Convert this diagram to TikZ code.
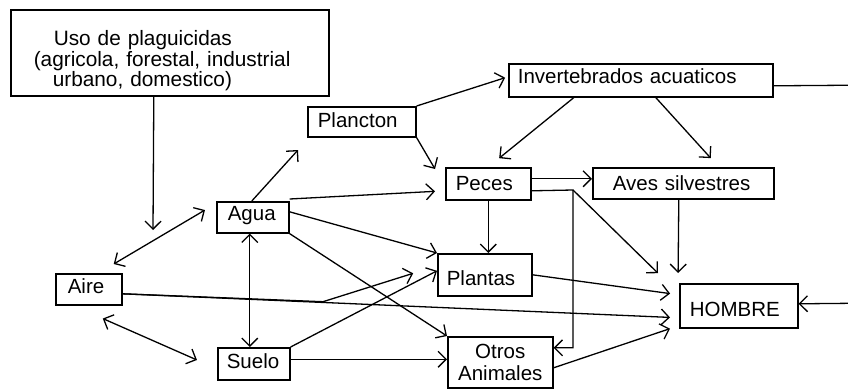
\documentclass[tikz,border=0pt]{standalone}
\usepackage{fontspec}
\setmainfont{Liberation Sans}
\usetikzlibrary{arrows.meta,calc}

\tikzset{
  >={Straight Barb[length=8pt,width=16pt]},
  box/.style={draw, line width=1.6pt, anchor=north west, inner ysep=0pt,
    align=left, font=\fontsize{20.5}{22}\selectfont},
  link/.style={line width=1.3pt, ->},
  link2/.style={line width=1.3pt, <->},
}

\begin{document}
\begin{tikzpicture}[x=1pt,y=-1pt]
\clip (0,0) rectangle (848,389);
\fill[white] (0,0) rectangle (848,389);

% boxes
\node[box, font=\fontsize{20.8}{20.5}\selectfont, inner xsep=23pt, text width=272pt, text height=36pt, text depth=50pt] (uso) at (10,9)
  {\hspace*{20pt}Uso de plaguicidas\\(agricola, forestal, industrial\\\hspace*{19pt}urbano, domestico)};
\node[box, inner xsep=9pt, text width=246pt, text height=20pt, text depth=13pt] (inv) at (508,63) {Invertebrados acuaticos};
\node[box, inner xsep=10pt, text width=88pt, text height=21pt, text depth=9pt] (plancton) at (307,106) {Plancton};
\node[box, inner xsep=11pt, text width=50pt, text height=19pt, text depth=12pt] (agua) at (216,201) {Agua};
\node[box, inner xsep=10pt, text width=65pt, text height=23pt, text depth=9pt] (peces) at (445,167) {Peces};
\node[box, inner xsep=20pt, text width=141pt, text height=23pt, text depth=8pt] (aves) at (592,167) {Aves silvestres};
\node[box, inner xsep=9pt, text width=76pt, text height=32pt, text depth=10pt] (plantas) at (437,253) {Plantas};
\node[box, inner xsep=12pt, text width=42pt, text height=20pt, text depth=11pt] (aire) at (55,273) {Aire};
\node[box, inner xsep=9pt, text width=54pt, text height=21pt, text depth=11pt] (suelo) at (217,347) {Suelo};
\node[box, inner xsep=10pt, text width=98pt, text height=33pt, text depth=11pt] (hombre) at (679,283) {HOMBRE};
\node[box, align=center, inner xsep=4pt, text width=97pt, text height=22pt, text depth=29pt] (otros) at (447,336) {Otros\\Animales};

% free ends and bends
\coordinate (usoend) at (153,230);
\coordinate (aguaup) at (298,150);
\coordinate (pcorner) at (573,190);
\coordinate (airebr) at (323,301.7);
\coordinate (loopA) at (880,85);
\coordinate (loopB) at (880,303);

% connectors
\draw[link] ($(uso.south)+(-16,0)$) -- (usoend);
\draw[link2, shorten <=17.7pt, shorten >=12.8pt] ($(aire.north)+(9.7,0)$) -- ($(agua.north west)+(0,2.5)$);
\draw[link2, shorten <=32.1pt, shorten >=21.9pt] ($(aire.south)+(-15.4,0)$) -- ($(suelo.west)+(0,5)$);
\draw[link] ($(agua.north)+(-1,0)$) -- (aguaup);
\draw[link, shorten >=3pt] (plancton.north east) -- ($(inv.west)+(0,-3.5)$);
\draw[link] (plancton.south east) -- ($(peces.north west)+(-10,2)$);
\draw[link, shorten >=14pt] ($(inv.south)+(-67,0)$) -- (peces.north);
\draw[link, shorten >=12pt] ($(inv.south)+(15,0)$) -- ($(aves.north)+(35.5,0)$);
\draw[link, shorten >=10pt] ($(agua.north east)+(0,-2)$) -- ($(peces.west)+(0,7)$);
\draw[link] ($(agua.east)+(0,-5.5)$) -- (plantas.north west);
\draw[link] (agua.south east) -- (otros.north west);
\draw[link2] ($(agua.south)+(-3,0)$) -- ($(suelo.north)+(-4,0)$);
\draw[link, shorten >=9pt] ($(aire.east)+(0,4.5)$) -- ($(hombre.west)+(0,12)$);
\draw[link, shorten >=25pt] ($(aire.east)+(0,4.5)$) -- (airebr) -- ($(plantas.west)+(0,-9)$);
\draw[link] (suelo.north east) -- ($(plantas.west)+(0,-4)$);
\draw[link] ($(suelo.east)+(0,-4.5)$) -- ($(otros.west)+(0,-3)$);
\draw[link] ($(peces.east)+(0,-5)$) -- ($(aves.west)+(0,-4.5)$);
\draw[link] (peces.south) -- (peces.south |- plantas.north);
\draw[link] ($(peces.east)+(0,7)$) -- (pcorner) |- ($(otros.east)+(0,-14.5)$);
\draw[link, shorten >=14pt] (pcorner) -- ($(hombre.north west)+(-11,0)$);
\draw[link, shorten >=10pt] ($(aves.south)+(-4.5,0)$) -- ($(hombre.north west)+(-1,0)$);
\draw[link, shorten >=9pt] (plantas.east) -- ($(hombre.west)+(0,-11)$);
\draw[link, shorten >=9.5pt] ($(otros.east)+(0,5.5)$) -- ($(hombre.south west)+(0,-3)$);
\draw[link] ($(inv.east)+(0,5.5)$) -- (loopA) -- (loopB) -- ($(hombre.east)+(0,-2)$);
\end{tikzpicture}
\end{document}
